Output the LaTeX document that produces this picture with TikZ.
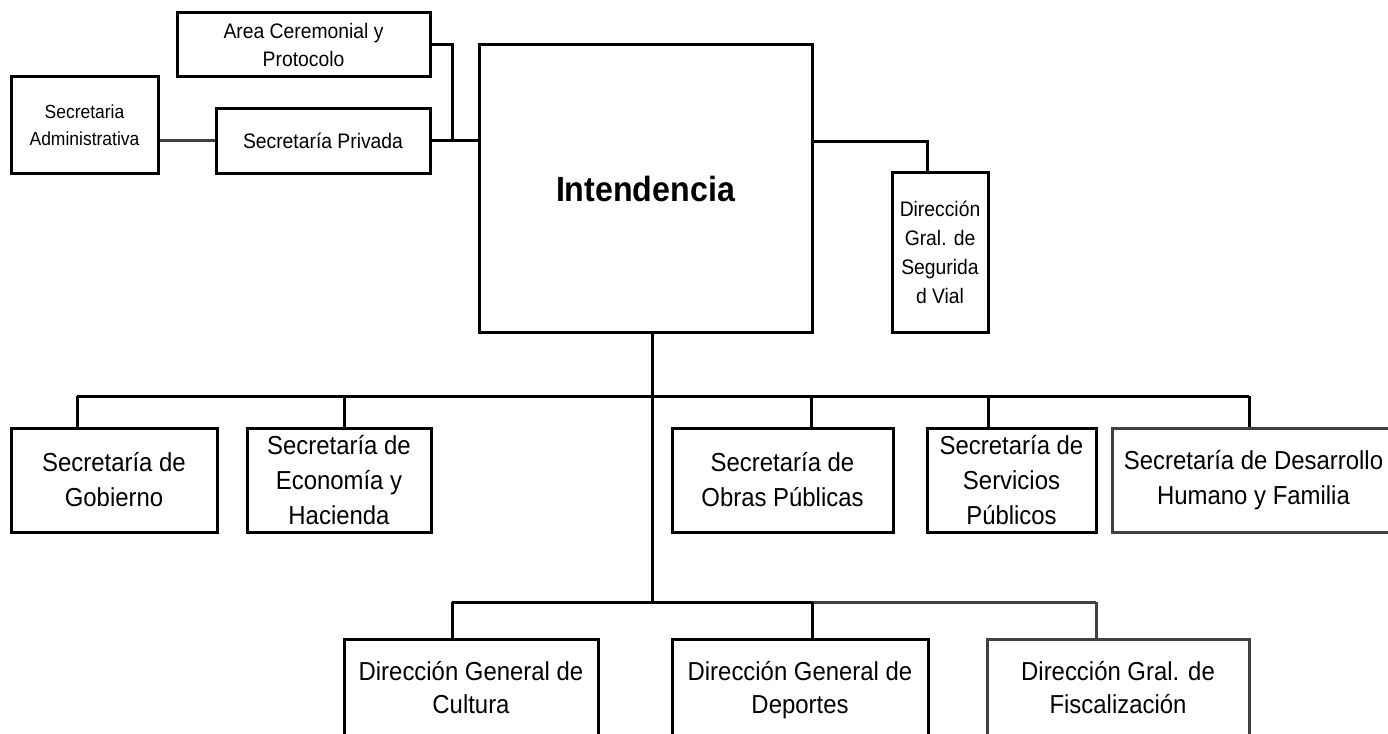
\documentclass[tikz,border=0pt]{standalone}
\usepackage{fontspec}
\setmainfont{Liberation Sans}[FakeStretch=0.92]
\definecolor{dgray}{HTML}{404040}
\begin{document}
\begin{tikzpicture}[x=1pt,y=-1pt,
  box/.style={draw=black, line width=3pt, rectangle, inner sep=0pt, align=center, text=black},
  gbox/.style={box, draw=dgray},
  ln/.style={draw=black, line width=3pt},
  lng/.style={draw=dgray, line width=3pt},
  fmid/.style={font=\fontsize{26}{35}\selectfont},
  fbot/.style={font=\fontsize{26}{33}\selectfont},
  fsmall/.style={font=\fontsize{21}{28}\selectfont},
  fadm/.style={font=\fontsize{19}{27}\selectfont},
  fseg/.style={font=\fontsize{21}{29}\selectfont},
  fint/.style={font=\fontsize{35}{40}\selectfont\bfseries}]
\useasboundingbox (0,0) rectangle (1388,733);
\clip (0,0) rectangle (1388,733);
\fill[white] (0,0) rectangle (1388,733);

% top group
\node[box, fsmall, minimum width=253pt, minimum height=64pt] (area) at (303.5,45) {Area Ceremonial y\\Protocolo};
\node[box, fadm, minimum width=147pt, minimum height=96pt] (admin) at (84.5,125) {Secretaria\\Administrativa};
\node[box, fsmall, minimum width=214pt, minimum height=64pt] (priv) at (323,141) {Secretaría Privada};
\node[box, fint, minimum width=333pt, minimum height=287pt] (int) at (645.5,188.5) {Intendencia};
\node[box, fseg, minimum width=96pt, minimum height=160pt] (seg) at (940,252) {Dirección\\Gral. de\\Segurida\\d Vial};

% middle row
\node[box, fmid, minimum width=206pt, minimum height=104pt] (gob) at (114,480) {Secretaría de\\Gobierno};
\node[box, fmid, minimum width=184pt, minimum height=104pt] (eco) at (339,480) {Secretaría de\\Economía y\\Hacienda};
\node[box, fmid, minimum width=221pt, minimum height=104pt] (obr) at (782.5,480) {Secretaría de\\Obras Públicas};
\node[box, fmid, minimum width=169pt, minimum height=104pt] (ser) at (1011.5,480) {Secretaría de\\Servicios\\Públicos};
\node[gbox, fmid, minimum width=283pt, minimum height=104pt] (des) at (1253.5,480) {Secretaría de Desarrollo\\Humano y Familia};

% bottom row
\node[box, fbot, minimum width=254pt, minimum height=102pt] (cul) at (471,690) {Dirección General de\\Cultura\vphantom{p}};
\node[box, fbot, minimum width=256pt, minimum height=102pt] (dep) at (800,690) {Dirección General de\\Deportes};
\node[gbox, fbot, minimum width=262pt, minimum height=102pt] (fis) at (1118,690) {Dirección Gral. de\\Fiscalización\vphantom{p}};

% junction coordinates
\coordinate (j1) at (452,140);
\coordinate (r1) at (927,141);
\coordinate (c0) at (652,396);
\coordinate (t1) at (77,396);
\coordinate (t2) at (344,396);
\coordinate (t3) at (811,396);
\coordinate (t4) at (988,396);
\coordinate (t5) at (1249,396);
\coordinate (b0) at (652,602);
\coordinate (b1) at (452,602);
\coordinate (b2) at (812,602);
\coordinate (b3) at (1096,602);

% top connectors
\draw[ln] (area.east) -| (j1);
\draw[ln] (priv.east |- j1) -- (int.west |- j1);
\draw[lng] (admin.east |- j1) -- (priv.west |- j1);
\draw[ln] (int.east |- r1) -| (r1 |- seg.north);

% middle bus
\draw[ln] (int.south -| c0) -- (b0);
\draw[ln] (t1) -- (t5);
\draw[ln] (t1) -- (t1 |- gob.north);
\draw[ln] (t2) -- (t2 |- eco.north);
\draw[ln] (t3) -- (t3 |- obr.north);
\draw[ln] (t4) -- (t4 |- ser.north);
\draw[ln] (t5) -- (t5 |- des.north);

% bottom bus
\draw[ln] (b1) -- (b2);
\draw[lng] (b2) -- (b3);
\draw[ln] (b1) -- (b1 |- cul.north);
\draw[ln] (b2) -- (b2 |- dep.north);
\draw[lng] (b3) -- (b3 |- fis.north);
\end{tikzpicture}
\end{document}
